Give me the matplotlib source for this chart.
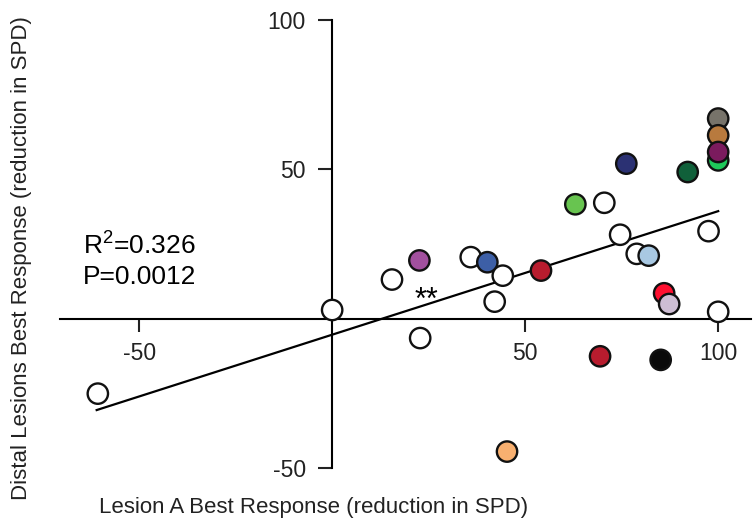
import matplotlib.pyplot as plt

plt.rcParams['font.family'] = ['Liberation Sans', 'DejaVu Sans']
plt.rcParams['axes.unicode_minus'] = False
plt.rcParams['mathtext.fontset'] = 'custom'
plt.rcParams['mathtext.rm'] = 'Liberation Sans'

# Lesion A best response (x) vs distal lesions best response (y)
x_vals = [45.3, -60.7, 0, 22.8, 15.5, 42.1, 35.9, 22.6, 40.2, 44.2, 54.1,
          70.5, 63.0, 74.6, 78.9, 82.0, 97.5, 76.2, 92.1, 86.0, 87.3, 100,
          69.4, 85.1, 100, 100, 100, 100]
y_vals = [-44.5, -25.1, 2.9, -6.5, 13.1, 5.7, 20.6, 19.5, 18.9, 14.4, 16.1,
          38.8, 38.3, 28.1, 21.7, 21.1, 29.3, 51.9, 49.1, 8.5, 4.9, 2.3,
          -12.6, -13.8, 53.0, 67.0, 61.4, 55.8]
colors = ['#f8b070', 'white', 'white', 'white', 'white', 'white', 'white',
          '#a2509e', '#3d5fa6', 'white', '#b81c2e', 'white', '#68c450',
          'white', 'white', '#a8c8e2', 'white', '#2b3173', '#10603a',
          '#ff1030', '#cdbdd3', 'white', '#b81c2e', '#0a0a0a', '#1ec95a',
          '#77736a', '#b87a3e', '#7b1b5e']

fit_x = [-61, 100]
fit_y = [-30.6, 36.0]

fig = plt.figure(figsize=(7.54, 5.19), dpi=100)
ax = fig.add_axes([60 / 754, 51 / 519, 691 / 754, 448 / 519])

ax.plot(fit_x, fit_y, color='black', lw=1.6, zorder=2)
ax.scatter(x_vals, y_vals, s=215, c=colors, edgecolors='#111111',
           linewidths=1.7, zorder=3, clip_on=False)

ax.set_xlim(-70.5, 108.5)
ax.set_ylim(-50, 100)

ax.spines['left'].set_position(('data', 0))
ax.spines['bottom'].set_position(('data', 0))
ax.spines['right'].set_visible(False)
ax.spines['top'].set_visible(False)
ax.spines['left'].set_bounds(-50, 100)
for s in ['left', 'bottom']:
    ax.spines[s].set_linewidth(1.5)

ax.set_xticks([-50, 50, 100])
ax.set_yticks([-50, 50, 100])
ax.tick_params(axis='x', direction='out', length=9, width=1.5, pad=8,
               labelsize=16.5, colors='#222222')
ax.tick_params(axis='y', direction='out', length=10, width=1.5, pad=9,
               labelsize=16.5, colors='#222222')

ax.text(24.5, 6.0, '**', fontsize=22, ha='center', va='center')

fig.text(83 / 754, 1 - 245 / 519, r'R$^2$=0.326', fontsize=19, va='center')
fig.text(83 / 754, 1 - 277 / 519, 'P=0.0012', fontsize=19, va='center')

fig.text(314 / 754, 1 - 507 / 519, 'Lesion A Best Response (reduction in SPD)',
         fontsize=16, ha='center', va='center', color='#222222')
fig.text(22 / 754, 1 - 258 / 519, 'Distal Lesions Best Response (reduction in SPD)',
         fontsize=16, ha='center', va='center', rotation=90, color='#222222')

fig.savefig('out.png', dpi=100)
